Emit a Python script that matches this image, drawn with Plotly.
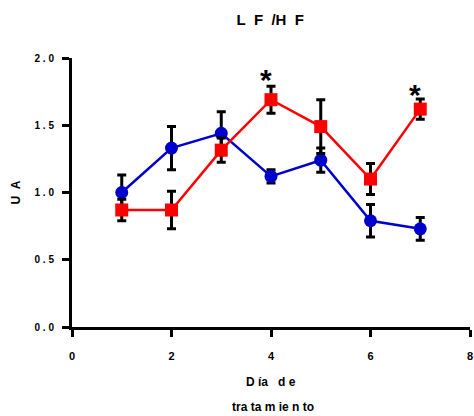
import plotly.graph_objects as go

days = [1, 2, 3, 4, 5, 6, 7]
blue_vals = [1.00, 1.33, 1.44, 1.12, 1.24, 0.79, 0.73]
blue_err = [0.13, 0.16, 0.16, 0.05, 0.09, 0.12, 0.085]
red_vals = [0.87, 0.87, 1.315, 1.69, 1.49, 1.10, 1.62]
red_err = [0.08, 0.14, 0.09, 0.10, 0.20, 0.115, 0.075]
star_days = [4, 7]
star_y = [1.84, 1.73]
yticks = [0.0, 0.5, 1.0, 1.5, 2.0]
yticklabels = ["0.0", "0.5", "1.0", "1.5", "2.0"]
xticks = [0, 2, 4, 6, 8]

NB = "\u00a0"


def spaced(s, sep=NB):
    return sep.join(list(s))


font = "Liberation Sans, Arial, sans-serif"

fig = go.Figure()
fig.add_trace(go.Scatter(
    x=days, y=blue_vals, mode="lines+markers",
    line=dict(color="#0000CC", width=2.5),
    marker=dict(symbol="circle", size=13, color="#0000CC"),
    error_y=dict(type="data", array=blue_err, color="black", thickness=3, width=4.5),
    cliponaxis=False,
))
fig.add_trace(go.Scatter(
    x=days, y=red_vals, mode="lines+markers",
    line=dict(color="#FF0000", width=2.5),
    marker=dict(symbol="square", size=13, color="#FF0000"),
    error_y=dict(type="data", array=red_err, color="black", thickness=3, width=4.5),
    cliponaxis=False,
))

for d, yv in zip(star_days, star_y):
    fig.add_annotation(x=d, y=yv, text="<b>*</b>", showarrow=False, xshift=-5,
                       font=dict(size=30, color="black", family=font),
                       xanchor="center", yanchor="middle")

# x axis title lines
fig.add_annotation(xref="paper", yref="paper", x=0.5, y=-0.205, text="<b>D" + NB + "ía" + NB * 3 + "d" + NB + "e</b>",
                   showarrow=False, xanchor="center", yanchor="middle",
                   font=dict(size=12, color="black", family=font))
fig.add_annotation(xref="paper", yref="paper", x=0.505, y=-0.297,
                   text="<b>tra" + NB + "ta" + NB + "m" + NB + "ie" + NB + "n" + NB + "to</b>",
                   showarrow=False, xanchor="center", yanchor="middle",
                   font=dict(size=12, color="black", family=font))

fig.update_layout(
    width=474, height=416,
    margin=dict(l=72, r=1, t=57.5, b=88.5),
    paper_bgcolor="white", plot_bgcolor="white",
    showlegend=False,
    title=dict(text="<b>L" + NB + NB + "F" + NB + NB + "/H" + NB + NB + "F</b>", x=0.57, xanchor="center",
               y=1 - 19.5 / 416, yanchor="middle",
               font=dict(size=15, color="black", family=font)),
    font=dict(family=font, color="black"),
)
fig.update_xaxes(
    range=[0, 8], tickvals=xticks, ticktext=["<b>%d</b>" % v for v in xticks],
    showgrid=False, zeroline=False, showline=True, linecolor="black", linewidth=3,
    ticks="outside", ticklen=7, tickwidth=3, tickcolor="black",
    ticklabelstandoff=10, ticklabeloverflow="allow",
    tickfont=dict(size=11, color="black", family=font),
)
fig.update_yaxes(
    range=[0, 2], tickvals=yticks, ticktext=["<b>%s</b>" % spaced(t) for t in yticklabels],
    showgrid=False, zeroline=False, showline=True, linecolor="black", linewidth=3,
    ticks="outside", ticklen=7, tickwidth=3, tickcolor="black",
    ticklabelstandoff=6,
    tickfont=dict(size=10, color="black", family=font),
    title=dict(text="<b>U" + NB + NB + "A</b>", standoff=12, font=dict(size=12, color="black", family=font)),
)

fig.write_html("out.html")
